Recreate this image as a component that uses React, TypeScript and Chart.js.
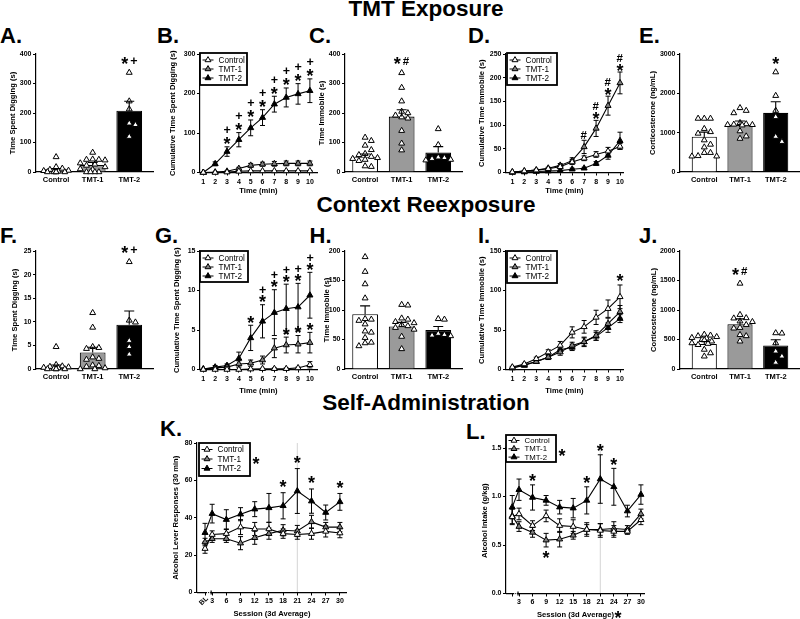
import React, { useEffect, useRef } from 'react';
import { Chart, registerables } from 'chart.js';

Chart.register(...registerables);

const FONT = '"Liberation Sans", Arial, Helvetica, sans-serif';
Chart.defaults.font.family = FONT;
Chart.defaults.color = '#000';

// ------------------------------------------------------------------ data
const groups = ['Control', 'TMT-1', 'TMT-2'];
const seriesNames = ['Control', 'TMT-1', 'TMT-2'];
const minutes = [1, 2, 3, 4, 5, 6, 7, 8, 9, 10];
const sessions = ['BL', '3', '6', '9', '12', '15', '18', '21', '24', '27', '30'];

// A. Time spent digging (TMT exposure)
const aYTicks = [0, 100, 200, 300, 400];
const aMean = [9, 24, 208];
const aSem = [3, 8, 32];
const aCtrl = [51, 17, 12, 8, 5, 4, 2, 0, 0, 0, 0, 0];
const aTmt1 = [66, 43, 42, 42, 40, 30, 26, 22, 17, 10, 8, 0, 0, 0, 0];
const aTmt2 = [337, 240, 213, 165, 160, 120];
const aSig = ['', '', '*+'];

// B. Cumulative digging
const bYTicks = [0, 100, 200, 300];
const bCtrl = [0, 0, 1, 3, 4, 4, 4, 4, 4, 4];
const bCtrlSem = [0, 0, 0.5, 1, 1, 1, 1, 1, 1, 1];
const bTmt1 = [0, 1, 3, 10, 18, 21, 22, 23, 23, 23];
const bTmt1Sem = [0, 0.5, 1.5, 3, 5, 5, 6, 6, 6, 6];
const bTmt2 = [0, 22, 53, 83, 113, 139, 173, 190, 199, 207];
const bTmt2Sem = [1, 5, 12, 18, 20, 20, 20, 24, 26, 30];
const bSigTmt2 = ['', '', '*+', '*+', '*+', '*+', '*+', '*+', '*+', '*+'];

// C. Time immobile
const cYTicks = [0, 100, 200, 300, 400];
const cMean = [52, 188, 66];
const cSem = [9, 23, 20];
const cCtrl = [117, 106, 90, 75, 62, 58, 52, 48, 45, 42, 38, 20, 18];
const cTmt1 = [336, 286, 240, 205, 200, 192, 186, 182, 140, 97, 74];
const cTmt2 = [146, 92, 50, 45, 40, 42, 48];
const cSig = ['', '*#', ''];

// D. Cumulative immobile
const dYTicks = [0, 50, 100, 150, 200, 250];
const dCtrl = [1, 3, 5, 8, 12, 22, 30, 38, 45, 55];
const dCtrlSem = [0.5, 1, 1, 2, 3, 5, 5, 6, 8, 6];
const dTmt1 = [1, 3, 5, 9, 15, 25, 54, 93, 141, 189];
const dTmt1Sem = [0.5, 1, 2, 2, 4, 6, 14, 17, 20, 23];
const dTmt2 = [0, 1, 2, 3, 4, 7, 9, 19, 36, 67];
const dTmt2Sem = [0, 0.5, 1, 1, 1, 2, 2, 4, 8, 18];
const dSigTmt1 = ['', '', '', '', '', '', '#', '*#', '*#', '*#'];

// E. Corticosterone
const eYTicks = [0, 1000, 2000, 3000];
const eMean = [897, 1200, 1505];
const eSem = [117, 95, 280];
const eCtrl = [1360, 1360, 1360, 1100, 1020, 980, 810, 700, 630, 490, 490, 410, 400, 400];
const eTmt1 = [1630, 1560, 1500, 1250, 1220, 1210, 1200, 1200, 1190, 1040, 910, 850];
const eTmt2 = [2540, 1940, 1560, 1400, 900, 770];
const eSig = ['', '', '*'];

// F. Time spent digging (context reexposure)
const fYTicks = [0, 5, 10, 15, 20, 25];
const fMean = [0.45, 3.5, 9.4];
const fSem = [0.4, 1.1, 2.9];
const fCtrl = [4.7, 0.9, 0.6, 0.5, 0.4, 0.3, 0.2, 0.1, 0, 0, 0, 0];
const fTmt1 = [11.9, 8.8, 4.7, 4.5, 4.3, 2.5, 2.2, 2.0, 0.8, 0.7, 0.5, 0.2, 0, 0];
const fTmt2 = [22.7, 10.3, 9.9, 6.0, 4.7, 3.1];
const fSig = ['', '', '*+'];

// G. Cumulative digging (reexposure)
const gYTicks = [0, 5, 10, 15];
const gCtrl = [0, 0, 0, 0, 0.05, 0.1, 0.1, 0.1, 0.2, 0.6];
const gCtrlSem = [0, 0, 0, 0, 0.05, 0.05, 0.1, 0.1, 0.1, 0.4];
const gTmt1 = [0.05, 0.2, 0.3, 0.7, 0.8, 1.2, 2.7, 3.1, 3.2, 3.4];
const gTmt1Sem = [0.05, 0.1, 0.2, 0.4, 0.4, 0.5, 1.2, 1.0, 1.1, 1.3];
const gTmt2 = [0.05, 0.3, 0.5, 1.4, 4.0, 6.1, 7.2, 7.7, 7.9, 9.4];
const gTmt2Sem = [0.05, 0.2, 0.2, 0.8, 1.6, 2.1, 2.9, 3.1, 3.0, 2.9];
const gSigTmt2 = ['', '', '', '', '*', '*+', '*+', '*+', '*+', '*+'];
const gSigTmt1 = ['', '', '', '', '', '', '', '*', '*', '*'];

// H. Time immobile (reexposure)
const hYTicks = [0, 50, 100, 150, 200];
const hMean = [93, 72, 66];
const hSem = [14, 7, 6];
const hCtrl = [190, 165, 144, 120, 85, 84, 82, 76, 64, 62, 53, 45, 44, 39];
const hTmt1 = [109, 108, 86, 84, 80, 78, 75, 73, 70, 67, 55, 34];
const hTmt2 = [85, 84, 60, 58, 57, 56];
const hSig = ['', '', ''];

// I. Cumulative immobile (reexposure)
const iYTicks = [0, 50, 100, 150];
const iCtrl = [3, 7, 13.6, 22, 30.5, 47, 54, 66, 77, 92];
const iCtrlSem = [1, 1, 2, 3, 5, 7, 8, 9, 11, 15];
const iTmt1 = [2, 6, 10, 15.6, 22, 30.5, 35, 43, 58, 73];
const iTmt1Sem = [1, 1, 2, 3, 4, 4, 6, 6, 7, 8];
const iTmt2 = [2, 5, 10, 15.6, 25, 28, 35, 42, 53, 64.4];
const iTmt2Sem = [1, 1, 1, 2, 3, 4, 5, 5, 6, 5];
const iSigCtrl = ['', '', '', '', '', '', '', '', '', '*'];

// J. Corticosterone (reexposure)
const jYTicks = [0, 500, 1000, 1500, 2000];
const jMean = [425, 760, 400];
const jSem = [40, 90, 95];
const jCtrl = [585, 570, 560, 545, 530, 520, 500, 490, 470, 440, 430, 410, 330, 270, 215];
const jTmt1 = [1450, 920, 865, 860, 810, 800, 750, 700, 690, 580, 560, 470];
const jTmt2 = [610, 605, 440, 300, 215, 110];
const jSig = ['', '*#', ''];

// K. Alcohol lever responses
const kYTicks = [0, 20, 40, 60, 80];
const kCtrl = [23.5, 31, 31.5, 35, 34, 34, 31.5, 31, 31.5, 32.7, 31.8];
const kCtrlSem = [2.5, 2, 2.5, 4, 3.5, 3.5, 2.5, 2.5, 3, 3, 2.5];
const kTmt1 = [27, 28.8, 28.8, 26.4, 29.3, 31.5, 33.3, 32.9, 37.8, 35, 35];
const kTmt1Sem = [2, 2, 2, 3.5, 3.5, 3, 3, 3, 3.5, 2.5, 2.5];
const kTmt2 = [32, 42.2, 39, 41.9, 44.6, 45.3, 46.4, 54.3, 48.9, 42.8, 48.5];
const kTmt2Sem = [5, 5, 5.3, 3.5, 4, 7.7, 7, 12, 6.5, 4, 4.5];
const kSigTmt2 = ['', '', '', '', '', '', '*', '*', '*', '', '*'];

// L. Alcohol intake
const lYTicks = [0, 0.5, 1.0, 1.5];
const lCtrl = [0.79, 0.82, 0.70, 0.80, 0.70, 0.69, 0.66, 0.65, 0.64, 0.64, 0.76];
const lCtrlSem = [0.08, 0.06, 0.05, 0.06, 0.07, 0.07, 0.07, 0.07, 0.06, 0.03, 0.05];
const lTmt1 = [0.80, 0.69, 0.63, 0.55, 0.56, 0.60, 0.66, 0.66, 0.67, 0.66, 0.82];
const lTmt1Sem = [0.08, 0.05, 0.05, 0.07, 0.08, 0.04, 0.05, 0.06, 0.07, 0.04, 0.05];
const lTmt2 = [0.89, 1.07, 0.99, 0.96, 0.89, 0.88, 0.96, 1.18, 1.10, 0.85, 1.02];
const lTmt2Sem = [0.12, 0.11, 0.13, 0.05, 0.07, 0.10, 0.14, 0.25, 0.19, 0.06, 0.10];
const lSigTmt2 = ['', '', '*', '', '', '', '*', '*', '*', '', ''];
const lSigTmt1Below = ['', '', '', '*', '', '', '', '', '', '', ''];

// ------------------------------------------------------------------ styles / layout
const BAR_FILL = ['#ffffff', '#9a9a9a', '#000000'];
const MARK_FILL = ['#ffffff', '#808080', '#000000'];
const PT = 18;
const PR = 6;
const PB = 2;
const BL_X = 1.5;
const TICK_FONT = 7;
const CAT_FONT = 7.5;
const TITLE_FONT = 7.6;

type Area = { l: number; t: number; r: number; b: number; titleX: number; xh: number };
const R1 = { t: 54, b: 172 };
const R2 = { t: 251, b: 369 };

// ------------------------------------------------------------------ helpers
function drawGlyph(ctx: CanvasRenderingContext2D, ch: string, cx: number, cy: number) {
  const size = ch === '*' ? 18 : ch === '+' ? 12.5 : 11.5;
  ctx.font = `bold ${size}px ${FONT}`;
  ctx.textAlign = 'left';
  ctx.textBaseline = 'alphabetic';
  ctx.fillStyle = '#000';
  const m = ctx.measureText(ch);
  const w = m.actualBoundingBoxLeft + m.actualBoundingBoxRight;
  const h = m.actualBoundingBoxAscent + m.actualBoundingBoxDescent;
  ctx.fillText(ch, cx - w / 2 + m.actualBoundingBoxLeft, cy - h / 2 + m.actualBoundingBoxAscent);
}

function drawTri(ctx: CanvasRenderingContext2D, x: number, y: number, r: number, fill: string) {
  ctx.beginPath();
  ctx.moveTo(x, y - r);
  ctx.lineTo(x + 0.866 * r, y + 0.5 * r);
  ctx.lineTo(x - 0.866 * r, y + 0.5 * r);
  ctx.closePath();
  ctx.fillStyle = fill;
  ctx.fill();
  ctx.lineWidth = 1;
  ctx.strokeStyle = '#000';
  ctx.stroke();
}

function swarm(vals: number[], pxY: number, stepX: number, maxX: number): number[] {
  const idx = vals.map((_, i) => i).sort((a, b) => vals[b] - vals[a]);
  const placed: { x: number; y: number }[] = [];
  const out = new Array(vals.length).fill(0);
  for (const i of idx) {
    const yy = vals[i] * pxY;
    let chosen: number | null = null;
    for (const step of [stepX, stepX * 0.6, stepX * 0.35]) {
      for (let k = 0; k < 40; k++) {
        const c = k === 0 ? 0 : (k % 2 ? 1 : -1) * Math.ceil(k / 2) * step;
        if (Math.abs(c) > maxX) break;
        if (placed.every((p) => Math.abs(p.x - c) >= step * 0.99 || Math.abs(p.y - yy) >= 5.2)) {
          chosen = c;
          break;
        }
      }
      if (chosen !== null) break;
    }
    out[i] = chosen ?? 0;
    placed.push({ x: out[i], y: yy });
  }
  return out;
}

function yScale(yw: number, ticks: number[], title: string, fmt?: (v: number) => string) {
  return {
    type: 'linear',
    min: ticks[0],
    max: ticks[ticks.length - 1],
    afterBuildTicks: (s: any) => {
      s.ticks = ticks.map((v) => ({ value: v }));
    },
    ticks: {
      font: { size: TICK_FONT, weight: 'bold' },
      color: '#000',
      padding: 1.5,
      callback: (v: number) => (fmt ? fmt(v) : String(v)),
    },
    grid: { display: true, drawOnChartArea: false, drawTicks: true, tickLength: 3, color: '#000', lineWidth: 1 },
    border: { display: true, color: '#000', width: 1.2 },
    title: { display: true, text: title, font: { size: TITLE_FONT, weight: 'bold' }, color: '#000', padding: 0 },
    afterFit: (s: any) => {
      s.width = yw;
      s.paddingTop = 0;
      s.paddingBottom = 0;
    },
  };
}

function baseOptions(scales: any) {
  return {
    responsive: false,
    maintainAspectRatio: false,
    animation: false,
    devicePixelRatio: 1,
    events: [],
    layout: { padding: { left: 0, top: PT, right: PR, bottom: PB } },
    plugins: { legend: { display: false }, tooltip: { enabled: false }, title: { display: false } },
    scales,
  };
}

// ------------------------------------------------------------------ bar panels
type BarSpec = {
  area: Area;
  xMin: number;
  xMax: number;
  yTicks: number[];
  yTitle: string;
  means: number[];
  sems: number[];
  points: number[][];
  sig: string[];
};

function barConfig(spec: BarSpec, yw: number) {
  const a = spec.area;
  const yMax = spec.yTicks[spec.yTicks.length - 1];
  const pxY = (a.b - a.t) / yMax;
  const pxX = (a.r - a.l) / (spec.xMax - spec.xMin);
  const scatter: { x: number; y: number }[] = [];
  spec.points.forEach((vals, gi) => {
    const offs = swarm(vals, pxY, 6.2 / pxX, 0.4);
    vals.forEach((v, k) => scatter.push({ x: gi + offs[k], y: v }));
  });
  const plugin = {
    id: 'barExtras',
    afterDatasetsDraw(chart: any) {
      const { ctx } = chart;
      const x = chart.scales.x;
      const y = chart.scales.y;
      ctx.save();
      ctx.strokeStyle = '#000';
      ctx.lineWidth = 1.1;
      spec.means.forEach((m, i) => {
        const px = x.getPixelForValue(i);
        const y0 = y.getPixelForValue(m);
        const y1 = y.getPixelForValue(m + spec.sems[i]);
        ctx.beginPath();
        ctx.moveTo(px, y0);
        ctx.lineTo(px, y1);
        ctx.moveTo(px - 5, y1);
        ctx.lineTo(px + 5, y1);
        ctx.stroke();
        const s = spec.sig[i];
        if (s) {
          const top = Math.min(y1, y.getPixelForValue(Math.max(...spec.points[i])));
          const chars = Array.from(s);
          chars.forEach((ch, k) => drawGlyph(ctx, ch, px + (k - (chars.length - 1) / 2) * 9, top - 12));
        }
      });
      ctx.restore();
    },
  };
  return {
    type: 'bar',
    data: {
      datasets: [
        {
          type: 'bar',
          data: spec.means.map((m, i) => ({ x: i, y: m })),
          backgroundColor: BAR_FILL,
          borderColor: '#000',
          borderWidth: 1.1,
          barPercentage: 0.88,
          categoryPercentage: 0.8,
          order: 2,
        },
        {
          type: 'scatter',
          data: scatter,
          pointStyle: 'triangle',
          pointRadius: 3.4,
          backgroundColor: '#fff',
          borderColor: '#000',
          borderWidth: 1,
          showLine: false,
          clip: false,
          order: 1,
        },
      ],
    },
    options: baseOptions({
      x: {
        type: 'linear',
        min: spec.xMin,
        max: spec.xMax,
        offset: false,
        afterBuildTicks: (s: any) => {
          s.ticks = groups.map((_, i) => ({ value: i }));
        },
        ticks: {
          font: { size: CAT_FONT, weight: 'bold' },
          color: '#000',
          padding: 3.5,
          maxRotation: 0,
          autoSkip: false,
          callback: (_v: number, i: number) => groups[i],
        },
        grid: { display: false, drawTicks: false, offset: false },
        border: { display: true, color: '#000', width: 1.2 },
        afterFit: (s: any) => {
          s.height = a.xh;
          s.paddingLeft = 0;
          s.paddingRight = 0;
        },
      },
      y: yScale(yw, spec.yTicks, spec.yTitle),
    }),
    plugins: [plugin],
  };
}

// ------------------------------------------------------------------ line panels
type LSeries = { label: string; values: number[]; sem: number[]; fill: string; sig?: string[]; sigBelow?: string[] };
type LegendSpec = { dx: number; dy: number; w: number; h: number; row0: number; rowGap: number; font: number };
type LineSpec = {
  area: Area;
  xMin: number;
  xMax: number;
  xVals: number[];
  xLabels: string[];
  yTicks: number[];
  yFmt?: (v: number) => string;
  yTitle: string;
  xTitle: string;
  series: LSeries[];
  legend: LegendSpec;
  sigGap: number;
  stack: number;
  vline?: number;
  breakAxis?: boolean;
  blLabel?: boolean;
  legendStar?: boolean;
  titleStar?: boolean;
};

function lineConfig(spec: LineSpec, yw: number) {
  const a = spec.area;
  const plugin = {
    id: 'lineExtras',
    beforeDatasetsDraw(chart: any) {
      const { ctx, chartArea } = chart;
      const x = chart.scales.x;
      const y = chart.scales.y;
      ctx.save();
      if (spec.vline !== undefined) {
        const px = x.getPixelForValue(spec.vline);
        ctx.strokeStyle = '#d4d4d4';
        ctx.lineWidth = 1;
        ctx.beginPath();
        ctx.moveTo(px, chartArea.top);
        ctx.lineTo(px, chartArea.bottom);
        ctx.stroke();
      }
      ctx.strokeStyle = '#000';
      ctx.lineWidth = 1;
      spec.series.forEach((s) => {
        s.values.forEach((v, j) => {
          const e = s.sem[j];
          if (!e) return;
          const px = x.getPixelForValue(spec.xVals[j]);
          const yt = y.getPixelForValue(v + e);
          const yb = y.getPixelForValue(Math.max(v - e, spec.yTicks[0]));
          ctx.beginPath();
          ctx.moveTo(px, yt);
          ctx.lineTo(px, yb);
          ctx.moveTo(px - 2.5, yt);
          ctx.lineTo(px + 2.5, yt);
          ctx.moveTo(px - 2.5, yb);
          ctx.lineTo(px + 2.5, yb);
          ctx.stroke();
        });
      });
      ctx.restore();
    },
    afterDatasetsDraw(chart: any) {
      const { ctx, chartArea } = chart;
      const x = chart.scales.x;
      const y = chart.scales.y;
      ctx.save();
      // significance marks
      spec.series.forEach((s) => {
        s.values.forEach((v, j) => {
          const px = x.getPixelForValue(spec.xVals[j]);
          const up = s.sig ? s.sig[j] : '';
          if (up) {
            const top = y.getPixelForValue(v + s.sem[j]);
            Array.from(up).forEach((ch, k) => drawGlyph(ctx, ch, px, top - spec.sigGap - k * spec.stack));
          }
          const dn = s.sigBelow ? s.sigBelow[j] : '';
          if (dn) {
            const bot = y.getPixelForValue(v - s.sem[j]);
            drawGlyph(ctx, dn, px, bot + spec.sigGap + 1);
          }
        });
      });
      // legend
      const L = spec.legend;
      const bx = chartArea.left + L.dx;
      const by = chartArea.top + L.dy;
      ctx.fillStyle = '#fff';
      ctx.fillRect(bx, by, L.w, L.h);
      ctx.lineWidth = 1.8;
      ctx.strokeStyle = '#000';
      ctx.strokeRect(bx, by, L.w, L.h);
      spec.series.forEach((s, i) => {
        const cy = by + L.row0 + i * L.rowGap;
        ctx.lineWidth = 1;
        ctx.strokeStyle = '#000';
        ctx.beginPath();
        ctx.moveTo(bx + 2.5, cy);
        ctx.lineTo(bx + 13.5, cy);
        ctx.stroke();
        drawTri(ctx, bx + 8, cy, 3.4, s.fill);
        ctx.font = `${L.font}px ${FONT}`;
        ctx.textAlign = 'left';
        ctx.textBaseline = 'middle';
        ctx.fillStyle = '#000';
        ctx.fillText(s.label, bx + 18.5, cy + 0.5);
      });
      if (spec.legendStar) drawGlyph(ctx, '*', bx + L.w + 6, by + 17);
      // broken x axis
      if (spec.breakAxis) {
        const yb = Math.round(chartArea.bottom - 0.6) + 0.6;
        const xBL = x.getPixelForValue(spec.xVals[0]);
        const x3 = x.getPixelForValue(spec.xVals[1]);
        ctx.strokeStyle = '#000';
        ctx.lineWidth = 1.2;
        ctx.beginPath();
        ctx.moveTo(chartArea.left, yb);
        ctx.lineTo(xBL + 2, yb);
        ctx.moveTo(x3 - 1, yb);
        ctx.lineTo(chartArea.right, yb);
        ctx.moveTo(x3 - 1, yb - 2);
        ctx.lineTo(x3 - 1, yb + 2);
        ctx.stroke();
        ctx.fillStyle = '#000';
        ctx.fillRect(xBL + 3, yb - 0.5, 1, 1);
        ctx.fillRect(xBL + 4.8, yb - 0.5, 1, 1);
      }
      if (spec.blLabel) {
        const xBL = x.getPixelForValue(spec.xVals[0]);
        ctx.save();
        ctx.translate(xBL + 2, chartArea.bottom + 5);
        ctx.rotate(-Math.PI / 4);
        ctx.font = `bold ${TICK_FONT}px ${FONT}`;
        ctx.textAlign = 'right';
        ctx.textBaseline = 'middle';
        ctx.fillStyle = '#000';
        ctx.fillText(spec.xLabels[0], 0, 0);
        ctx.restore();
      }
      if (spec.titleStar) {
        ctx.font = `bold ${TITLE_FONT}px ${FONT}`;
        const tw = ctx.measureText(spec.xTitle).width;
        const cx = (chartArea.left + chartArea.right) / 2;
        drawGlyph(ctx, '*', cx + tw / 2 + 4, x.bottom - 4.5);
      }
      ctx.restore();
    },
  };
  return {
    type: 'line',
    data: {
      datasets: spec.series.map((s) => ({
        label: s.label,
        data: spec.xVals.map((xv, j) => ({ x: xv, y: s.values[j] })),
        borderColor: '#000',
        borderWidth: 1.1,
        pointStyle: 'triangle',
        pointRadius: 3.5,
        pointBackgroundColor: s.fill,
        pointBorderColor: '#000',
        pointBorderWidth: 1,
        tension: 0,
        fill: false,
        clip: false,
      })),
    },
    options: baseOptions({
      x: {
        type: 'linear',
        min: spec.xMin,
        max: spec.xMax,
        offset: false,
        afterBuildTicks: (s: any) => {
          s.ticks = spec.xVals.map((v) => ({ value: v }));
        },
        ticks: {
          font: { size: TICK_FONT, weight: 'bold' },
          color: '#000',
          padding: spec.breakAxis ? 1.3 : 2.4,
          maxRotation: 0,
          autoSkip: false,
          callback: (_v: number, i: number) => (spec.xLabels[i] === 'BL' ? '' : spec.xLabels[i]),
        },
        grid: { display: true, drawOnChartArea: false, drawTicks: true, tickLength: 3, color: '#000', lineWidth: 1 },
        border: { display: !spec.breakAxis, color: '#000', width: 1.2 },
        title: { display: true, text: spec.xTitle, font: { size: TITLE_FONT, weight: 'bold' }, color: '#000', padding: 0 },
        afterFit: (s: any) => {
          s.height = a.xh;
          s.paddingLeft = 0;
          s.paddingRight = 0;
        },
      },
      y: yScale(yw, spec.yTicks, spec.yTitle, spec.yFmt),
    }),
    plugins: [plugin],
  };
}

// ------------------------------------------------------------------ panel specs
const LEG: LegendSpec = { dx: 0, dy: -1, w: 48, h: 32, row0: 7, rowGap: 9, font: 8.2 };

const barPanels: BarSpec[] = [
  { area: { l: 36, r: 153, ...R1, titleX: 12, xh: 15 }, xMin: -0.55, xMax: 2.65, yTicks: aYTicks, yTitle: 'Time Spent Digging (s)', means: aMean, sems: aSem, points: [aCtrl, aTmt1, aTmt2], sig: aSig },
  { area: { l: 345, r: 462, ...R1, titleX: 321, xh: 15 }, xMin: -0.55, xMax: 2.65, yTicks: cYTicks, yTitle: 'Time Immobile (s)', means: cMean, sems: cSem, points: [cCtrl, cTmt1, cTmt2], sig: cSig },
  { area: { l: 680, r: 800, ...R1, titleX: 652, xh: 15 }, xMin: -0.68, xMax: 2.68, yTicks: eYTicks, yTitle: 'Corticosterone (ng/mL)', means: eMean, sems: eSem, points: [eCtrl, eTmt1, eTmt2], sig: eSig },
  { area: { l: 36, r: 153, ...R2, titleX: 14, xh: 15 }, xMin: -0.55, xMax: 2.65, yTicks: fYTicks, yTitle: 'Time Spent Digging (s)', means: fMean, sems: fSem, points: [fCtrl, fTmt1, fTmt2], sig: fSig },
  { area: { l: 345, r: 462, ...R2, titleX: 326, xh: 15 }, xMin: -0.55, xMax: 2.65, yTicks: hYTicks, yTitle: 'Time Immobile (s)', means: hMean, sems: hSem, points: [hCtrl, hTmt1, hTmt2], sig: hSig },
  { area: { l: 680, r: 800, ...R2, titleX: 653, xh: 15 }, xMin: -0.68, xMax: 2.68, yTicks: jYTicks, yTitle: 'Corticosterone (ng/mL)', means: jMean, sems: jSem, points: [jCtrl, jTmt1, jTmt2], sig: jSig },
];

const mkSeries = (vals: number[][], sems: number[][], sig: (string[] | undefined)[], below?: (string[] | undefined)[]): LSeries[] =>
  seriesNames.map((label, i) => ({ label, values: vals[i], sem: sems[i], fill: MARK_FILL[i], sig: sig[i], sigBelow: below ? below[i] : undefined }));

const minuteLabels = minutes.map(String);
const sessionX = sessions.map((s) => (s === 'BL' ? BL_X : Number(s)));

const linePanels: LineSpec[] = [
  {
    area: { l: 200, r: 317, ...R1, titleX: 172.5, xh: 22.5 }, xMin: 0.72, xMax: 10.6, xVals: minutes, xLabels: minuteLabels,
    yTicks: bYTicks, yTitle: 'Cumulative Time Spent Digging (s)', xTitle: 'Time (min)',
    series: mkSeries([bCtrl, bTmt1, bTmt2], [bCtrlSem, bTmt1Sem, bTmt2Sem], [undefined, undefined, bSigTmt2]),
    legend: { ...LEG, w: 47 }, sigGap: 6, stack: 11,
  },
  {
    area: { l: 506, r: 623, ...R1, titleX: 481, xh: 22.5 }, xMin: 0.47, xMax: 10.25, xVals: minutes, xLabels: minuteLabels,
    yTicks: dYTicks, yTitle: 'Cumulative Time Immobile (s)', xTitle: 'Time (min)',
    series: mkSeries([dCtrl, dTmt1, dTmt2], [dCtrlSem, dTmt1Sem, dTmt2Sem], [undefined, dSigTmt1, undefined]),
    legend: { ...LEG, dx: 1, w: 50 }, sigGap: 5, stack: 9,
  },
  {
    area: { l: 200, r: 317, ...R2, titleX: 176.5, xh: 25.5 }, xMin: 0.72, xMax: 10.6, xVals: minutes, xLabels: minuteLabels,
    yTicks: gYTicks, yTitle: 'Cumulative Time Spent Digging (s)', xTitle: 'Time (min)',
    series: mkSeries([gCtrl, gTmt1, gTmt2], [gCtrlSem, gTmt1Sem, gTmt2Sem], [undefined, gSigTmt1, gSigTmt2]),
    legend: { ...LEG, dy: 0, w: 48, h: 31 }, sigGap: 6, stack: 9,
  },
  {
    area: { l: 506, r: 623, ...R2, titleX: 481, xh: 25.5 }, xMin: 0.47, xMax: 10.25, xVals: minutes, xLabels: minuteLabels,
    yTicks: iYTicks, yTitle: 'Cumulative Time Immobile (s)', xTitle: 'Time (min)',
    series: mkSeries([iCtrl, iTmt1, iTmt2], [iCtrlSem, iTmt1Sem, iTmt2Sem], [iSigCtrl, undefined, undefined]),
    legend: { ...LEG, dx: 1, dy: 0, w: 50 }, sigGap: 7, stack: 9,
  },
  {
    area: { l: 197, t: 443, r: 347, b: 592, titleX: 175, xh: 25.5 }, xMin: -0.2, xMax: 31.5, xVals: sessionX, xLabels: sessions,
    yTicks: kYTicks, yTitle: 'Alcohol Lever Responses (30 min)', xTitle: 'Session (3d Average)',
    series: mkSeries([kCtrl, kTmt1, kTmt2], [kCtrlSem, kTmt1Sem, kTmt2Sem], [undefined, undefined, kSigTmt2]),
    legend: { ...LEG, dx: 2, dy: 0, w: 51, h: 33, row0: 6.5, rowGap: 9.5 }, sigGap: 9, stack: 10,
    vline: 21, breakAxis: true, blLabel: true, legendStar: true,
  },
  {
    area: { l: 506, t: 448, r: 645, b: 593, titleX: 484, xh: 25.5 }, xMin: 0.12, xMax: 30.9, xVals: sessionX, xLabels: sessions,
    yTicks: lYTicks, yFmt: (v) => v.toFixed(1), yTitle: 'Alcohol Intake (g/kg)', xTitle: 'Session (3d Average)',
    series: mkSeries([lCtrl, lTmt1, lTmt2], [lCtrlSem, lTmt1Sem, lTmt2Sem], [undefined, undefined, lSigTmt2], [undefined, lSigTmt1Below, undefined]),
    legend: { ...LEG, dx: 0, dy: -13, w: 50, h: 27, row0: 5.5, rowGap: 8.3, font: 7.8 }, sigGap: 7, stack: 10,
    vline: 21, breakAxis: true, legendStar: true, titleStar: true,
  },
];

// ------------------------------------------------------------------ components
function Panel({ area, make }: { area: Area; make: (yw: number) => any }) {
  const ref = useRef<HTMLCanvasElement>(null);
  const x = Math.round(area.titleX - 4.5);
  const y = area.t - PT;
  const w = Math.round(area.r + PR - x);
  const h = Math.round(area.b + area.xh + PB - y);
  useEffect(() => {
    if (!ref.current) return;
    const chart = new Chart(ref.current, make(area.l - x));
    return () => chart.destroy();
  }, []);
  return <canvas ref={ref} width={w} height={h} style={{ position: 'absolute', left: x, top: y, width: w, height: h }} />;
}

function Txt({ text, x, base, size, center }: { text: string; x: number; base: number; size: number; center?: boolean }) {
  return (
    <div
      style={{
        position: 'absolute',
        left: x,
        top: base - 0.8465 * size,
        fontFamily: FONT,
        fontWeight: 700,
        fontSize: size,
        lineHeight: `${size}px`,
        whiteSpace: 'nowrap',
        color: '#000',
        transform: center ? 'translateX(-50%)' : undefined,
      }}
    >
      {text}
    </div>
  );
}

const sectionTitles = [
  { text: 'TMT Exposure', base: 17 },
  { text: 'Context Reexposure', base: 213 },
  { text: 'Self-Administration', base: 411.5 },
];
const panelLetters = [
  { text: 'A.', x: 0, base: 43.3 },
  { text: 'B.', x: 157, base: 43.3 },
  { text: 'C.', x: 309, base: 43.3 },
  { text: 'D.', x: 468, base: 43.3 },
  { text: 'E.', x: 639, base: 43.3 },
  { text: 'F.', x: 0, base: 243.5 },
  { text: 'G.', x: 155, base: 243.5 },
  { text: 'H.', x: 309.5, base: 243.5 },
  { text: 'I.', x: 478, base: 244 },
  { text: 'J.', x: 639, base: 244 },
  { text: 'K.', x: 160, base: 436.7 },
  { text: 'L.', x: 466, base: 440 },
];

export default function App() {
  return (
    <div style={{ position: 'absolute', left: 0, top: 0, width: 800, height: 619, overflow: 'hidden', background: '#fff' }}>
      {sectionTitles.map((t) => (
        <Txt key={t.text} text={t.text} x={426} base={t.base} size={22.5} center />
      ))}
      {panelLetters.map((t) => (
        <Txt key={t.text} text={t.text} x={t.x} base={t.base} size={22} />
      ))}
      {barPanels.map((s, i) => (
        <Panel key={'b' + i} area={s.area} make={(yw) => barConfig(s, yw)} />
      ))}
      {linePanels.map((s, i) => (
        <Panel key={'l' + i} area={s.area} make={(yw) => lineConfig(s, yw)} />
      ))}
    </div>
  );
}
